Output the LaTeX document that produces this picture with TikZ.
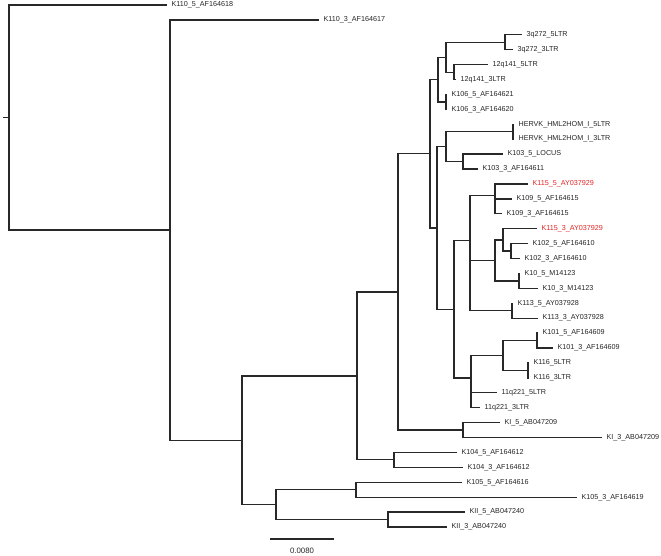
\documentclass[tikz,border=0pt]{standalone}
\usepackage{fontspec}
\setmainfont{Liberation Sans}
\usepackage{tikz}

\definecolor{hitred}{RGB}{226,38,38}
\definecolor{branchgray}{RGB}{40,40,40}

\begin{document}
\begin{tikzpicture}[x=1pt, y=-1pt,
    branch/.style={draw=branchgray, line width=1.25pt},
    leaf/.style={anchor=west, inner xsep=4.6pt, inner ysep=0pt, outer sep=0pt,
      font=\fontsize{7.2}{8}\selectfont, text=black!85},
    hit/.style={leaf, text=hitred}]
  \useasboundingbox (0,0) rectangle (661,556);

  % Internal nodes (x = depth, y = midpoint of children)
  \coordinate (root) at (9, 117.55);
  \coordinate (nO) at (170, 230.1);
  \coordinate (nN) at (242, 440.3);
  \coordinate (nL) at (357, 375.9);
  \coordinate (nK) at (398, 291.9);
  \coordinate (nJ) at (430, 153.75);
  \coordinate (n438) at (438, 79.6);
  \coordinate (nA) at (446, 57.2);
  \coordinate (n3q) at (505, 42.25);
  \coordinate (n12q) at (454, 72.15);
  \coordinate (n106) at (446, 101.95);
  \coordinate (nI) at (437, 227.9);
  \coordinate (nB) at (446, 146.7);
  \coordinate (nHERV) at (513, 131.75);
  \coordinate (n103) at (463, 161.6);
  \coordinate (nH) at (454, 309.15);
  \coordinate (nE) at (470, 240.4);
  \coordinate (n115a) at (495, 195.2);
  \coordinate (n109) at (495, 206.35);
  \coordinate (nD) at (470, 285.6);
  \coordinate (nC) at (495, 260.4);
  \coordinate (n115b) at (503, 239.9);
  \coordinate (n102) at (511, 251.05);
  \coordinate (n10) at (519, 280.95);
  \coordinate (n113) at (512, 310.75);
  \coordinate (nG) at (471, 377.9);
  \coordinate (nF) at (503, 355.5);
  \coordinate (n101) at (537, 340.55);
  \coordinate (n116) at (528, 370.4);
  \coordinate (n11q) at (471, 400.25);
  \coordinate (nKI) at (463, 430.05);
  \coordinate (n104) at (394, 459.85);
  \coordinate (nM) at (276, 504.65);
  \coordinate (n105) at (356, 489.75);
  \coordinate (nII) at (388, 519.55);

  % Leaves
  \node[leaf] (l1) at (167, 5.0) {K110\_5\_AF164618};
  \node[leaf] (l2) at (319, 19.9) {K110\_3\_AF164617};
  \node[leaf] (l3) at (522, 34.8) {3q272\_5LTR};
  \node[leaf] (l4) at (513, 49.7) {3q272\_3LTR};
  \node[leaf] (l5) at (488, 64.7) {12q141\_5LTR};
  \node[leaf] (l6) at (456, 79.6) {12q141\_3LTR};
  \node[leaf] (l7) at (447, 94.5) {K106\_5\_AF164621};
  \node[leaf] (l8) at (447, 109.4) {K106\_3\_AF164620};
  \node[leaf] (l9) at (514, 124.3) {HERVK\_HML2HOM\_I\_5LTR};
  \node[leaf] (l10) at (514, 139.2) {HERVK\_HML2HOM\_I\_3LTR};
  \node[leaf] (l11) at (503, 154.1) {K103\_5\_LOCUS};
  \node[leaf] (l12) at (478, 169.1) {K103\_3\_AF164611};
  \node[hit] (l13) at (528, 184.0) {K115\_5\_AY037929};
  \node[leaf] (l14) at (512, 198.9) {K109\_5\_AF164615};
  \node[leaf] (l15) at (502, 213.8) {K109\_3\_AF164615};
  \node[hit] (l16) at (537, 228.7) {K115\_3\_AY037929};
  \node[leaf] (l17) at (528, 243.6) {K102\_5\_AF164610};
  \node[leaf] (l18) at (520, 258.5) {K102\_3\_AF164610};
  \node[leaf] (l19) at (520, 273.5) {K10\_5\_M14123};
  \node[leaf] (l20) at (538, 288.4) {K10\_3\_M14123};
  \node[leaf] (l21) at (513, 303.3) {K113\_5\_AY037928};
  \node[leaf] (l22) at (538, 318.2) {K113\_3\_AY037928};
  \node[leaf] (l23) at (538, 333.1) {K101\_5\_AF164609};
  \node[leaf] (l24) at (553, 348.0) {K101\_3\_AF164609};
  \node[leaf] (l25) at (529, 362.9) {K116\_5LTR};
  \node[leaf] (l26) at (529, 377.9) {K116\_3LTR};
  \node[leaf] (l27) at (497, 392.8) {11q221\_5LTR};
  \node[leaf] (l28) at (480, 407.7) {11q221\_3LTR};
  \node[leaf] (l29) at (500, 422.6) {KI\_5\_AB047209};
  \node[leaf] (l30) at (602, 437.5) {KI\_3\_AB047209};
  \node[leaf] (l31) at (457, 452.4) {K104\_5\_AF164612};
  \node[leaf] (l32) at (463, 467.3) {K104\_3\_AF164612};
  \node[leaf] (l33) at (462, 482.3) {K105\_5\_AF164616};
  \node[leaf] (l34) at (577, 497.2) {K105\_3\_AF164619};
  \node[leaf] (l35) at (465, 512.1) {KII\_5\_AB047240};
  \node[leaf] (l36) at (447, 527.0) {KII\_3\_AB047240};

  % Branches (vertical first, then across)
  \draw[branch] (3, 117.55) -- (root);
  \foreach \p/\c in {root/l1, root/nO, nO/l2, nO/nN, nN/nL, nN/nM,
      nL/nK, nL/n104, nK/nJ, nK/nKI, nJ/n438, nJ/nI,
      n438/nA, n438/n106, nA/n3q, nA/n12q, n3q/l3, n3q/l4,
      n12q/l5, n12q/l6, n106/l7, n106/l8,
      nI/nB, nI/nH, nB/nHERV, nB/n103, nHERV/l9, nHERV/l10,
      n103/l11, n103/l12, nH/nE, nH/nG,
      nE/n115a, nE/nD, n115a/l13, n115a/n109, n109/l14, n109/l15,
      nD/nC, nD/n113, nC/n115b, nC/n10, n115b/l16, n115b/n102,
      n102/l17, n102/l18, n10/l19, n10/l20, n113/l21, n113/l22,
      nG/nF, nG/n11q, nF/n101, nF/n116, n101/l23, n101/l24,
      n116/l25, n116/l26, n11q/l27, n11q/l28,
      nKI/l29, nKI/l30, n104/l31, n104/l32,
      nM/n105, nM/nII, n105/l33, n105/l34, nII/l35, nII/l36}
    \draw[branch] (\p) |- (\c);

  % Scale bar
  \coordinate (sbL) at (270, 539);
  \coordinate (sbR) at (334, 539);
  \draw[branch] (sbL) -- (sbR);
  \node[font=\fontsize{7.8}{9}\selectfont, text=black!85, inner sep=0pt]
    (sblabel) at (302, 551) {0.0080};
\end{tikzpicture}
\end{document}
